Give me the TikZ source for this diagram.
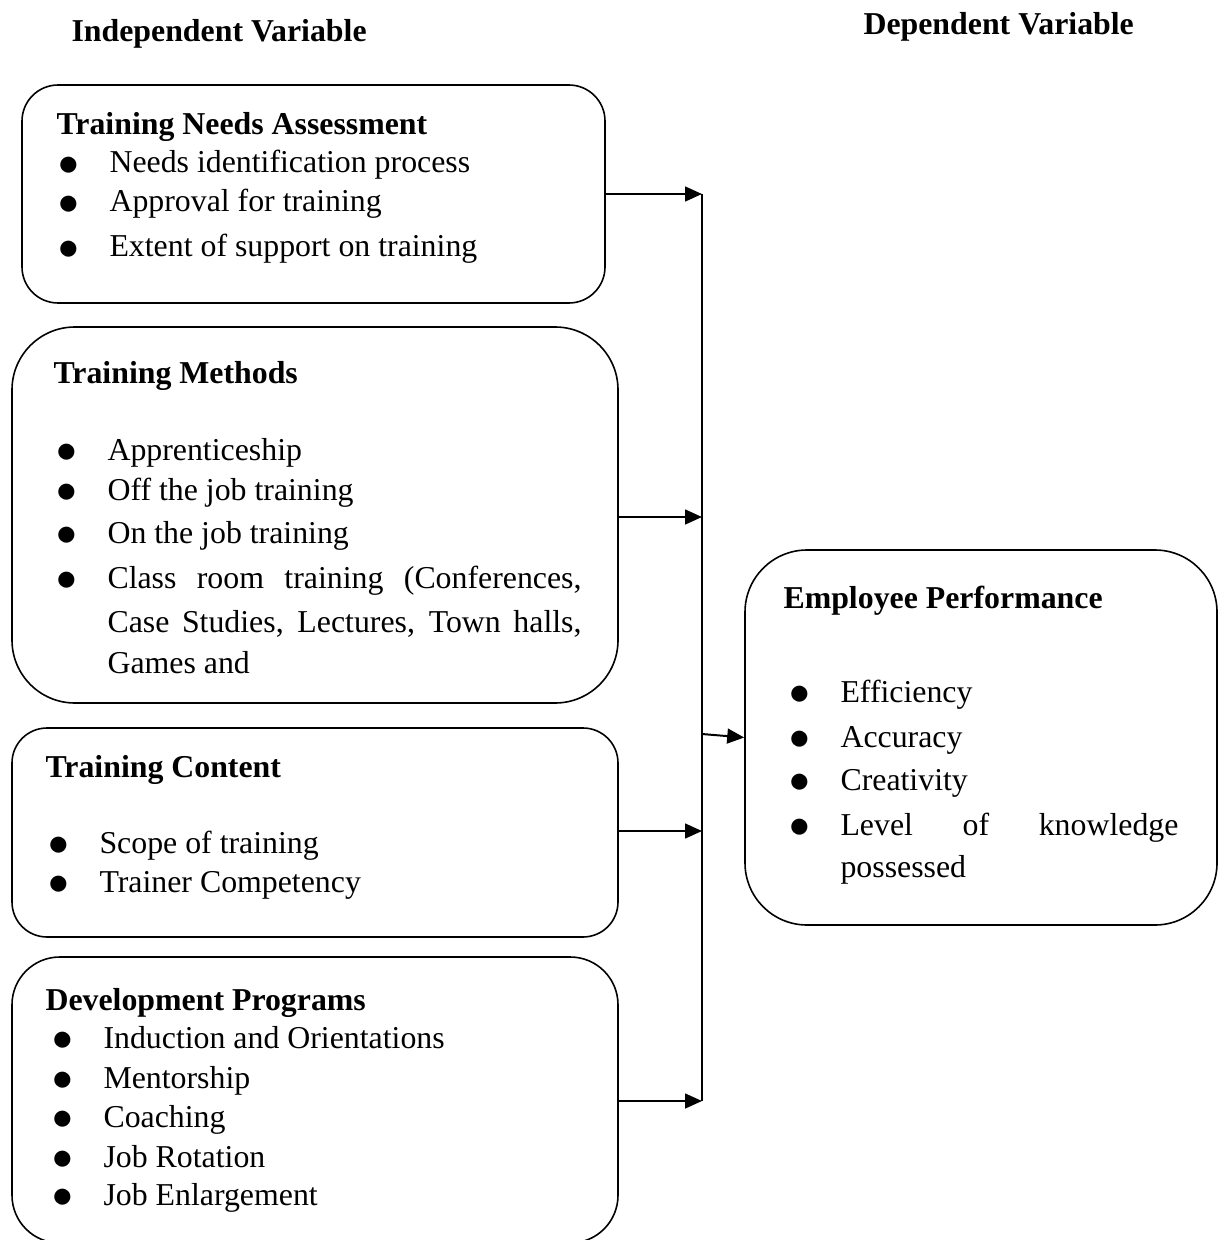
\documentclass[tikz,border=0pt]{standalone}
\usepackage{fontspec}
\setmainfont{Liberation Serif}
\usetikzlibrary{arrows.meta,fit}
\newcommand{\dotitem}{\llap{\raisebox{-0.9pt}{\scalebox{1.3}{$\bullet$}}\hspace{11.4pt}}}

\begin{document}
\begin{tikzpicture}[
  x=0.377pt, y=-0.377pt,
  font=\fontsize{12}{15}\selectfont,
  box/.style={draw, line width=0.6pt, inner sep=0pt},
  head/.style={anchor=base west, inner sep=0pt, font=\fontsize{12}{15}\selectfont\bfseries},
  item/.style={anchor=base west, inner sep=0pt},
  link/.style={-{Triangle[length=6.4pt,width=5.6pt]}, line width=0.75pt},
  bus/.style={line width=0.75pt}
]
\useasboundingbox (0,0) rectangle (1223,1240);
\clip (0,0) rectangle (1223,1240);

% column headings
\node[head] (indep) at (71,42) {Independent Variable};
\node[head] (dep) at (863,35) {Dependent Variable};

% independent variable boxes
\node[box, rounded corners=13.6pt, fit={(22,85) (605,303)}] (tna) {};
\node[head] (tnatitle) at (56,135) {Training Needs Assessment};
\node[item] (tna1) at (109,173) {\dotitem Needs identification process};
\node[item] (tna2) at (109,212) {\dotitem Approval for training};
\node[item] (tna3) at (109,257) {\dotitem Extent of support on training};

\node[box, rounded corners=23.7pt, fit={(12,327) (618,703)}] (methods) {};
\node[head] (methtitle) at (53,383) {Training Methods};
\node[item] (meth1) at (107,460) {\dotitem Apprenticeship};
\node[item] (meth2) at (107,500) {\dotitem Off the job training};
\node[item] (meth3) at (107,543) {\dotitem On the job training};
\node[item] (meth4) at (107,588) {\dotitem\makebox[178.7pt][s]{Class room training (Conferences,}};
\node[item] (meth4b) at (107,632) {\makebox[178.7pt][s]{Case Studies, Lectures, Town halls,}};
\node[item] (meth4c) at (107,673) {Games and};

\node[box, rounded corners=13.2pt, fit={(12,728) (618,937)}] (content) {};
\node[head] (conttitle) at (45,777) {Training Content};
\node[item] (cont1) at (99,853) {\dotitem Scope of training};
\node[item] (cont2) at (99,892) {\dotitem Trainer Competency};

\node[box, rounded corners=18pt, fit={(12,957) (618,1243)}] (devprog) {};
\node[head] (devtitle) at (45,1010) {Development Programs};
\node[item] (dev1) at (103,1048) {\dotitem Induction and Orientations};
\node[item] (dev2) at (103,1088) {\dotitem Mentorship};
\node[item] (dev3) at (103,1127) {\dotitem Coaching};
\node[item] (dev4) at (103,1167) {\dotitem Job Rotation};
\node[item] (dev5) at (103,1205) {\dotitem Job Enlargement};

% dependent variable box
\node[box, rounded corners=23.4pt, fit={(745,550) (1217,925)}] (perf) {};
\node[head] (perftitle) at (783,608) {Employee Performance};
\node[item] (perf1) at (840,702) {\dotitem Efficiency};
\node[item] (perf2) at (840,747) {\dotitem Accuracy};
\node[item] (perf3) at (840,790) {\dotitem Creativity};
\node[item] (perf4) at (840,835) {\dotitem\makebox[127.4pt][s]{Level of knowledge}};
\node[item] (perf4b) at (840,877) {possessed};

% connectors
\coordinate (b1) at (702,194);
\coordinate (b2) at (702,517);
\coordinate (b3) at (702,831);
\coordinate (b4) at (702,1101);
\coordinate (join) at (702,734);
\draw[link] (tna.east |- b1) -- (b1);
\draw[link] (methods.east |- b2) -- (b2);
\draw[link] (content.east |- b3) -- (b3);
\draw[link] (devprog.east |- b4) -- (b4);
\draw[bus] (b1) -- (b4);
\draw[link] (join) -- (perf.west);
\end{tikzpicture}
\end{document}
